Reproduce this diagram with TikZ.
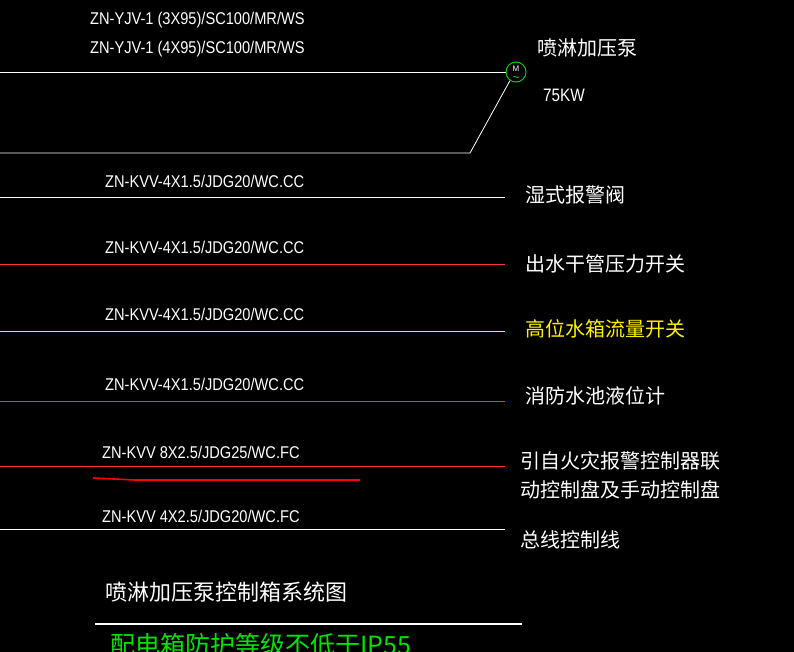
\documentclass[tikz,border=0pt]{standalone}
\usepackage{fontspec}
\setmainfont{Liberation Sans}
\newfontfamily\cjk{Noto Sans CJK SC}
\begin{document}
\begin{tikzpicture}[x=1pt,y=-1pt,
  lbl/.style={anchor=west,inner sep=0,text=white,font=\fontsize{17}{17}\selectfont,xscale=0.86},
  cn/.style={anchor=west,inner sep=0,text=white,font=\cjk\fontsize{20}{20}\selectfont},
  wire/.style={line width=0.8pt}]
\fill[black] (0,0) rectangle (794,652);
\clip (0,0) rectangle (794,652);
\node[lbl] (t1) at (90,20) {ZN-YJV-1  (3X95)/SC100/MR/WS};
\node[lbl] (t2) at (90,49) {ZN-YJV-1  (4X95)/SC100/MR/WS};
\node[circle,draw=green!80!black,line width=1pt,minimum size=20pt,inner sep=0] (m) at (516,72) {};
\node[text=white,font=\fontsize{8}{8}\selectfont,inner sep=0] (mm) at (516,69) {M};
\draw[green!80!black,line width=0.8pt] (m.center) ++(-3,5) .. controls +(1.5,-2) and +(-1.5,2) .. ++(6,0);
\coordinate (a0) at (0,72);
\coordinate (b0) at (0,153);
\coordinate (b1) at (470,153);
\draw[white,wire] (a0) -- (m.west);
\draw[white,wire] (b0) -- (b1) -- (m.235);
\node[cn] (p1) at (537,48) {喷淋加压泵};
\node[anchor=west,inner sep=0,text=white,font=\fontsize{18}{18}\selectfont,xscale=0.85] (p2) at (543,95) {75KW};
\foreach \y/\c in {197/white, 264/red!80!white, 331/yellow, 401/red!80!white, 466/red!80!white, 529/white}{
  \coordinate (s) at (0,\y);
  \coordinate (e) at (505,\y);
  \draw[\c,wire] (s) -- (e);
}
\node[lbl] at (105,181) {ZN-KVV-4X1.5/JDG20/WC.CC};
\node[lbl] at (105,247) {ZN-KVV-4X1.5/JDG20/WC.CC};
\node[lbl] at (105,314) {ZN-KVV-4X1.5/JDG20/WC.CC};
\node[lbl] at (105,384) {ZN-KVV-4X1.5/JDG20/WC.CC};
\node[lbl] at (102,452) {ZN-KVV 8X2.5/JDG25/WC.FC};
\node[lbl] at (102,516) {ZN-KVV 4X2.5/JDG20/WC.FC};
\node[cn] at (525,195) {湿式报警阀};
\node[cn] at (525,264) {出水干管压力开关};
\node[cn,text=yellow] at (525,329) {高位水箱流量开关};
\node[cn] at (525,396) {消防水池液位计};
\node[cn] at (520,461) {引自火灾报警控制器联};
\node[cn] at (520,490) {动控制盘及手动控制盘};
\node[cn] at (520,540) {总线控制线};
\coordinate (u0) at (93,478); \coordinate (u1) at (135,480); \coordinate (u2) at (360,480);
\draw[red,line width=1.6pt] (u0) -- (u1) -- (u2);
\node[cn,font=\cjk\fontsize{22}{22}\selectfont] (title) at (105,592) {喷淋加压泵控制箱系统图};
\coordinate (k0) at (95,624); \coordinate (k1) at (522,624);
\draw[white,line width=2.2pt] (k0) -- (k1);
\node[cn,text=green!90!black,font=\cjk\fontsize{25}{25}\selectfont] at (110,645) {配电箱防护等级不低于IP55};
\end{tikzpicture}
\end{document}
